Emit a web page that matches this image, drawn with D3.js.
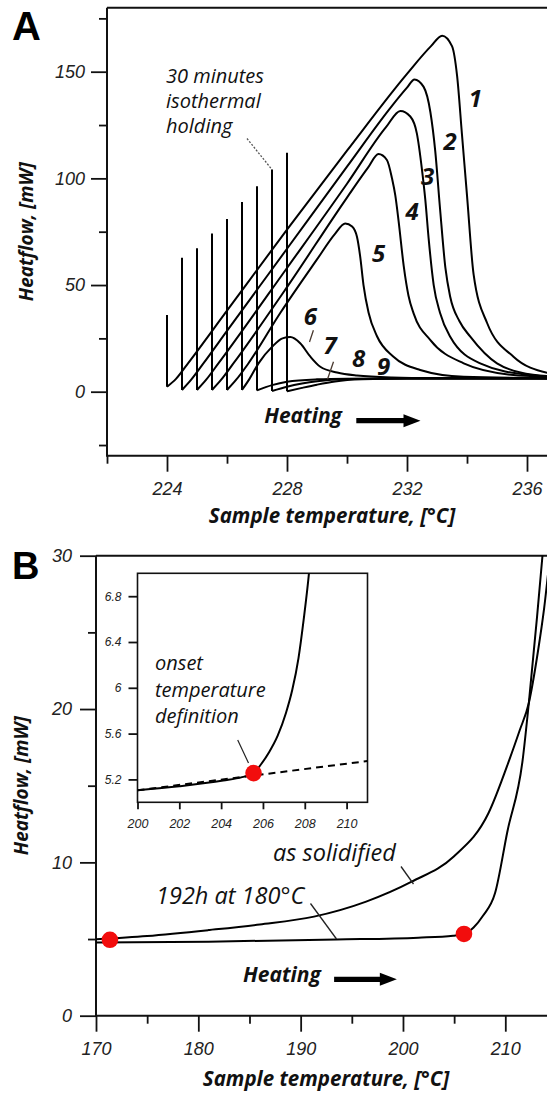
<!DOCTYPE html>
<html>
<head>
<meta charset="utf-8">
<script src="https://cdn.jsdelivr.net/npm/d3@7"></script>
<style>
  body { margin: 0; background: #fff; }
  svg { display: block; }
  .tick text { font-family: "Liberation Sans", Arial, sans-serif; font-style: italic; fill: #222; }
  .ann { font-family: "Open Sans", "Noto Sans", sans-serif; font-style: italic; fill: #111; }
  .bold { font-family: "Open Sans", "Noto Sans", sans-serif; font-style: italic; font-weight: bold; fill: #111; }
</style>
</head>
<body>
<svg id="chart" width="547" height="1097"></svg>
<script>
// ---- panel A: remelting after 30 min isothermal holding ----
const holdTemps = [224, 224.5, 225, 225.5, 226, 226.5, 227, 227.5, 228];
const spikeTops = [36, 62.8, 67.2, 74.1, 81, 88.9, 96.3, 104.1, 112];
const curveNames = ['1', '2', '3', '4', '5', '6', '7', '8', '9'];

const curve1 = [[224,2.3],[224.3,6],[224.7,13.3],[226,38],[228,76],[230,113],[232,149],[232.8,162],[233.17,166.9],[233.5,162],[233.67,148],[233.83,121],[234.0,92],[234.22,55],[234.67,32.2],[235.55,16.4],[236.67,8.9],[238,6.8]];
const curve2 = [[224.5,0.8],[224.8,5.5],[225.2,13],[226,28.5],[228,67],[230,105.5],[231.5,134],[232,142.5],[232.25,146.4],[232.55,143],[232.78,131],[232.94,113],[233.1,86],[233.28,58],[233.44,44.5],[233.75,33],[234.11,25.8],[235,13.3],[236.2,8],[238,6.5]];
const curve3 = [[225,0.8],[225.3,5.5],[225.7,13],[228,58],[230,97.5],[231.3,124],[231.78,131.6],[232.11,129],[232.33,121],[232.5,104],[232.61,90],[232.72,72],[232.89,50],[233.1,37],[233.44,25.8],[234.44,13.3],[236.1,7.8],[238,6.4]];
const curve4 = [[225.5,0.8],[225.8,5.5],[226.2,13],[228,49],[230,91],[230.7,105],[231.05,111.4],[231.33,108.6],[231.5,100],[231.61,92],[231.72,80],[231.89,59],[232.05,45],[232.22,36.7],[232.78,24.2],[233.89,13.3],[235.55,7.8],[236.67,7],[238,6.4]];
const curve5 = [[226,0.8],[226.3,5.5],[226.7,13],[227.78,37],[229,62],[229.6,74],[229.94,78.9],[230.17,77.4],[230.33,72.7],[230.44,63.3],[230.55,50],[230.72,37],[231,26],[231.55,16.4],[232.44,10.2],[233.89,7],[236.67,6.3],[238,6.2]];
const curve6 = [[226.5,0.8],[226.75,6],[227.05,13.3],[227.5,21],[227.85,25],[228.11,25.6],[228.44,22.7],[228.78,16.4],[229.11,11.7],[229.67,9],[230.33,7.6],[231.5,6.7],[233,6.4],[238,6.2]];
const curve7 = [[227,0.6],[227.5,3.1],[228,4.7],[229,5.8],[230,6.1],[232,6.2],[238,6.2]];
const curve8 = [[227.5,0.3],[228,2.3],[228.5,3.8],[229,4.9],[230,5.9],[232,6.2],[238,6.2]];
const curve9 = [[228,0.2],[228.5,1.8],[229,3.3],[229.6,4.8],[230.5,5.8],[232,6.2],[238,6.2]];
const curvesA = [curve1, curve2, curve3, curve4, curve5, curve6, curve7, curve8, curve9];

const xTicksA = [224, 228, 232, 236];
const xMinorA = [222, 226, 230, 234];
const yTicksA = [0, 50, 100, 150];
const yMinorA = [-25, 25, 75, 125, 175];

// ---- panel B: as solidified vs 192h at 180°C ----
const asSolidified = [[170,4.98],[175,5.2],[181.1,5.59],[186,5.95],[191.3,6.46],[196.4,7.44],[200.85,8.74],[204.94,10.37],[208.35,13.2],[210.4,16.7],[211.4,18.6],[212.3,20.4],[213.2,23.8],[213.8,26.6],[214.3,29.5],[214.6,31]];
const aged192h = [[170,4.78],[181,4.83],[193.5,4.97],[201.5,5.09],[204.9,5.22],[205.96,5.33],[206.9,5.75],[207.8,6.5],[209.0,8.0],[210.2,12.0],[211.7,16.7],[212.3,20.4],[213.1,26],[213.7,30.5]];
const onsetDots = [[171.36, 4.95], [205.96, 5.33]];

const xTicksB = [170, 180, 190, 200, 210];
const xMinorB = [175, 185, 195, 205];
const yTicksB = [0, 10, 20, 30];
const yMinorB = [5, 15, 25];

// inset: onset definition
const insetCurve = [[200,5.105],[202,5.14],[204.1,5.19],[205,5.22],[205.55,5.255],[205.9,5.33],[206.3,5.44],[206.7,5.58],[207.1,5.78],[207.4,5.98],[207.7,6.26],[207.95,6.6],[208.2,7.0],[208.3,7.2]];
const insetBaseline = [[200,5.105],[211,5.36]];
const insetDot = [205.55, 5.255];
const xTicksI = [200, 202, 204, 206, 208, 210];
const yTicksI = [5.2, 5.6, 6, 6.4, 6.8];

const svg = d3.select('#chart');
const defs = svg.append('defs');

// scales
const xA = d3.scaleLinear().domain([222, 236]).range([107, 527]);
const yA = d3.scaleLinear().domain([-30, 180]).range([455.7, 7.7]);
const xB = d3.scaleLinear().domain([170, 210]).range([96, 505.3]);
const yB = d3.scaleLinear().domain([0, 30]).range([1015.7, 555.7]);
const xI = d3.scaleLinear().domain([200, 211]).range([137.5, 367.5]);
const yI = d3.scaleLinear().domain([5, 7]).range([802.3, 573.3]);

function styleAxis(g, size) {
    g.select('.domain').remove();
    g.attr('font-family', null).attr('font-size', null);
    g.selectAll('.tick line').attr('stroke', '#111').attr('stroke-width', 1.8);
    g.selectAll('.tick text').style('font-size', size + 'px');
}

function drawAxes(x, y, xMajor, xMinor, yMajor, yMinor, opts) {
    const y0 = y.range()[0];
    const x0 = x.range()[0];
    svg.append('g').attr('transform', `translate(0,${y0})`)
        .call(d3.axisBottom(x).tickValues(xMinor).tickSize(opts.minor).tickFormat(''))
        .call(g => styleAxis(g, opts.font));
    svg.append('g').attr('transform', `translate(0,${y0})`)
        .call(d3.axisBottom(x).tickValues(xMajor).tickSize(opts.major).tickPadding(opts.xPad).tickFormat(d3.format('')))
        .call(g => styleAxis(g, opts.font));
    svg.append('g').attr('transform', `translate(${x0},0)`)
        .call(d3.axisLeft(y).tickValues(yMinor).tickSize(opts.minor).tickFormat(''))
        .call(g => styleAxis(g, opts.font));
    svg.append('g').attr('transform', `translate(${x0},0)`)
        .call(d3.axisLeft(y).tickValues(yMajor).tickSize(opts.major).tickPadding(opts.yPad).tickFormat(d3.format('')))
        .call(g => styleAxis(g, opts.font));
}

// ================= PANEL A =================
drawAxes(xA, yA, xTicksA, xMinorA, yTicksA, yMinorA, {minor: 8, major: 16, xPad: 11, yPad: 6, font: 18});

// frame (left, bottom, top)
svg.append('path')
    .attr('d', `M${xA(222)},${yA(180)}V${yA(-30)}H560M${xA(222)},${yA(180)}H560`)
    .attr('fill', 'none').attr('stroke', '#111').attr('stroke-width', 2);

const lineA = d3.line().x(d => xA(d[0])).y(d => yA(d[1])).curve(d3.curveMonotoneX);

svg.append('g').selectAll('path.curve').data(curvesA).join('path')
    .attr('class', 'curve')
    .attr('d', lineA)
    .attr('fill', 'none').attr('stroke', '#000').attr('stroke-width', 2);

// isothermal spikes
svg.append('g').selectAll('line').data(holdTemps).join('line')
    .attr('x1', d => xA(d)).attr('x2', d => xA(d))
    .attr('y1', (d, i) => yA(curvesA[i][0][1]))
    .attr('y2', (d, i) => yA(spikeTops[i]))
    .attr('stroke', '#000').attr('stroke-width', 2);

// curve numbers
const labelSpotsA = [[234.28,137.5],[233.44,117.2],[232.69,100.8],[232.17,84.4],[231.05,64.9],[228.78,35.2],[229.44,21.9],[230.39,15.7],[231.22,11.7]];
svg.append('g').selectAll('text').data(curveNames).join('text')
    .attr('class', 'bold')
    .attr('x', (d, i) => xA(labelSpotsA[i][0]))
    .attr('y', (d, i) => yA(labelSpotsA[i][1]))
    .attr('dy', '0.36em')
    .attr('text-anchor', 'middle')
    .style('font-size', '24px')
    .text(d => d);

// leaders for 6 and 7
svg.append('path')
    .attr('d', `M${xA(228.88)},${yA(28.8)}L${xA(228.75)},${yA(23.3)}M${xA(229.55)},${yA(14.0)}L${xA(229.35)},${yA(5.8)}`)
    .attr('stroke', '#4a3a30').attr('stroke-width', 1.3);

// isothermal holding note
const noteA = svg.append('text').attr('class', 'ann').style('font-size', '20px');
['30 minutes', 'isothermal', 'holding'].forEach((t, i) => {
    noteA.append('tspan').attr('x', 166).attr('y', 82.5 + i * 25).text(t);
});
svg.append('line')
    .attr('x1', 247).attr('y1', 138.5)
    .attr('x2', xA(227.5)).attr('y2', yA(spikeTops[7]))
    .attr('stroke', '#555').attr('stroke-width', 1.3).attr('stroke-dasharray', '2,1.6');

// heating arrow
function arrow(x1, x2, y) {
    svg.append('path')
        .attr('d', `M${x1},${y - 2.6}H${x2 - 17}V${y - 6.5}L${x2},${y}L${x2 - 17},${y + 6.5}V${y + 2.6}H${x1}Z`)
        .attr('fill', '#000');
}
svg.append('text').attr('class', 'bold').style('font-size', '21px')
    .attr('x', xA(227.24)).attr('y', yA(-14.7)).text('Heating');
arrow(xA(230.31), xA(232.45), yA(-13.6));

// axis titles A
svg.append('text').attr('class', 'bold').style('font-size', '20.5px')
    .attr('text-anchor', 'middle').attr('x', 332).attr('y', 523)
    .text('Sample temperature, [°C]');
svg.append('text').attr('class', 'bold').style('font-size', '19px')
    .attr('text-anchor', 'middle')
    .attr('transform', `translate(33,${(yA(180) + yA(-30)) / 2}) rotate(-90)`)
    .text('Heatflow, [mW]');

svg.append('text')
    .attr('x', 12).attr('y', 39.5)
    .style('font-family', '"Liberation Sans", Arial, sans-serif').style('font-weight', 'bold')
    .style('font-size', '40px').text('A');

// ================= PANEL B =================
drawAxes(xB, yB, xTicksB, xMinorB, yTicksB, yMinorB, {minor: 8, major: 16, xPad: 11, yPad: 8, font: 18});
svg.append('path')
    .attr('d', `M${xB(170)},${yB(30)}V${yB(0)}H560M${xB(170)},${yB(30)}H560`)
    .attr('fill', 'none').attr('stroke', '#111').attr('stroke-width', 2);

defs.append('clipPath').attr('id', 'clipB').append('rect')
    .attr('x', xB(170)).attr('y', yB(30)).attr('width', 500).attr('height', yB(0) - yB(30));

const lineB = d3.line().x(d => xB(d[0])).y(d => yB(d[1])).curve(d3.curveMonotoneX);
svg.append('g').attr('clip-path', 'url(#clipB)').selectAll('path')
    .data([asSolidified, aged192h]).join('path')
    .attr('d', lineB)
    .attr('fill', 'none').attr('stroke', '#000').attr('stroke-width', 2);

svg.append('g').selectAll('circle').data(onsetDots).join('circle')
    .attr('cx', d => xB(d[0])).attr('cy', d => yB(d[1])).attr('r', 8.3)
    .attr('fill', '#f20d0d');

// labels B
svg.append('text').attr('class', 'ann').style('font-size', '23.5px')
    .attr('x', 273).attr('y', 861).text('as solidified');
svg.append('line').attr('x1', 401).attr('y1', 866.5).attr('x2', 413.5).attr('y2', 884)
    .attr('stroke', '#222').attr('stroke-width', 1.3);
svg.append('text').attr('class', 'ann').style('font-size', '23.5px')
    .attr('x', 156).attr('y', 904).text('192h at 180°C');
svg.append('line').attr('x1', 310.5).attr('y1', 903.5).attr('x2', 336.5).attr('y2', 939)
    .attr('stroke', '#222').attr('stroke-width', 1.3);

svg.append('text').attr('class', 'bold').style('font-size', '21px')
    .attr('x', xB(184.37)).attr('y', yB(2.2)).text('Heating');
arrow(xB(193.27), xB(199.4), yB(2.37));

svg.append('text').attr('class', 'bold').style('font-size', '20.5px')
    .attr('text-anchor', 'middle').attr('x', 326).attr('y', 1086)
    .text('Sample temperature, [°C]');
svg.append('text').attr('class', 'bold').style('font-size', '19px')
    .attr('text-anchor', 'middle')
    .attr('transform', `translate(27.5,${(yB(30) + yB(0)) / 2}) rotate(-90)`)
    .text('Heatflow, [mW]');

svg.append('text')
    .attr('x', 12).attr('y', 579)
    .style('font-family', '"Liberation Sans", Arial, sans-serif').style('font-weight', 'bold')
    .style('font-size', '38px').text('B');

// ---- inset ----
svg.append('rect')
    .attr('x', xI(200)).attr('y', yI(7)).attr('width', xI(211) - xI(200)).attr('height', yI(5) - yI(7))
    .attr('fill', '#fff').attr('stroke', '#111').attr('stroke-width', 1.6);

svg.append('g').attr('transform', `translate(0,${yI(5)})`)
    .call(d3.axisBottom(xI).tickValues(xTicksI).tickSize(7).tickPadding(10).tickFormat(d3.format('')))
    .call(g => styleAxis(g, 12.5));
svg.append('g').attr('transform', `translate(${xI(200)},0)`)
    .call(d3.axisLeft(yI).tickValues(yTicksI).tickSize(9).tickPadding(7).tickFormat(d3.format('')))
    .call(g => styleAxis(g, 12));

defs.append('clipPath').attr('id', 'clipI').append('rect')
    .attr('x', xI(200)).attr('y', yI(7)).attr('width', xI(211) - xI(200)).attr('height', yI(5) - yI(7));

const lineI = d3.line().x(d => xI(d[0])).y(d => yI(d[1])).curve(d3.curveMonotoneX);
const gI = svg.append('g').attr('clip-path', 'url(#clipI)');
gI.append('path').datum(insetBaseline).attr('d', lineI)
    .attr('fill', 'none').attr('stroke', '#000').attr('stroke-width', 2).attr('stroke-dasharray', '7,5');
gI.append('path').datum(insetCurve).attr('d', lineI)
    .attr('fill', 'none').attr('stroke', '#000').attr('stroke-width', 2);
svg.append('circle')
    .attr('cx', xI(insetDot[0])).attr('cy', yI(insetDot[1])).attr('r', 8.3).attr('fill', '#f20d0d');

const noteI = svg.append('text').attr('class', 'ann').style('font-size', '20px');
['onset', 'temperature', 'definition'].forEach((t, i) => {
    noteI.append('tspan').attr('x', 155).attr('y', 670 + i * 26.5).text(t);
});
svg.append('line').attr('x1', 237.7).attr('y1', 740).attr('x2', 248.5).attr('y2', 763)
    .attr('stroke', '#222').attr('stroke-width', 1.2);
</script>
</body>
</html>
